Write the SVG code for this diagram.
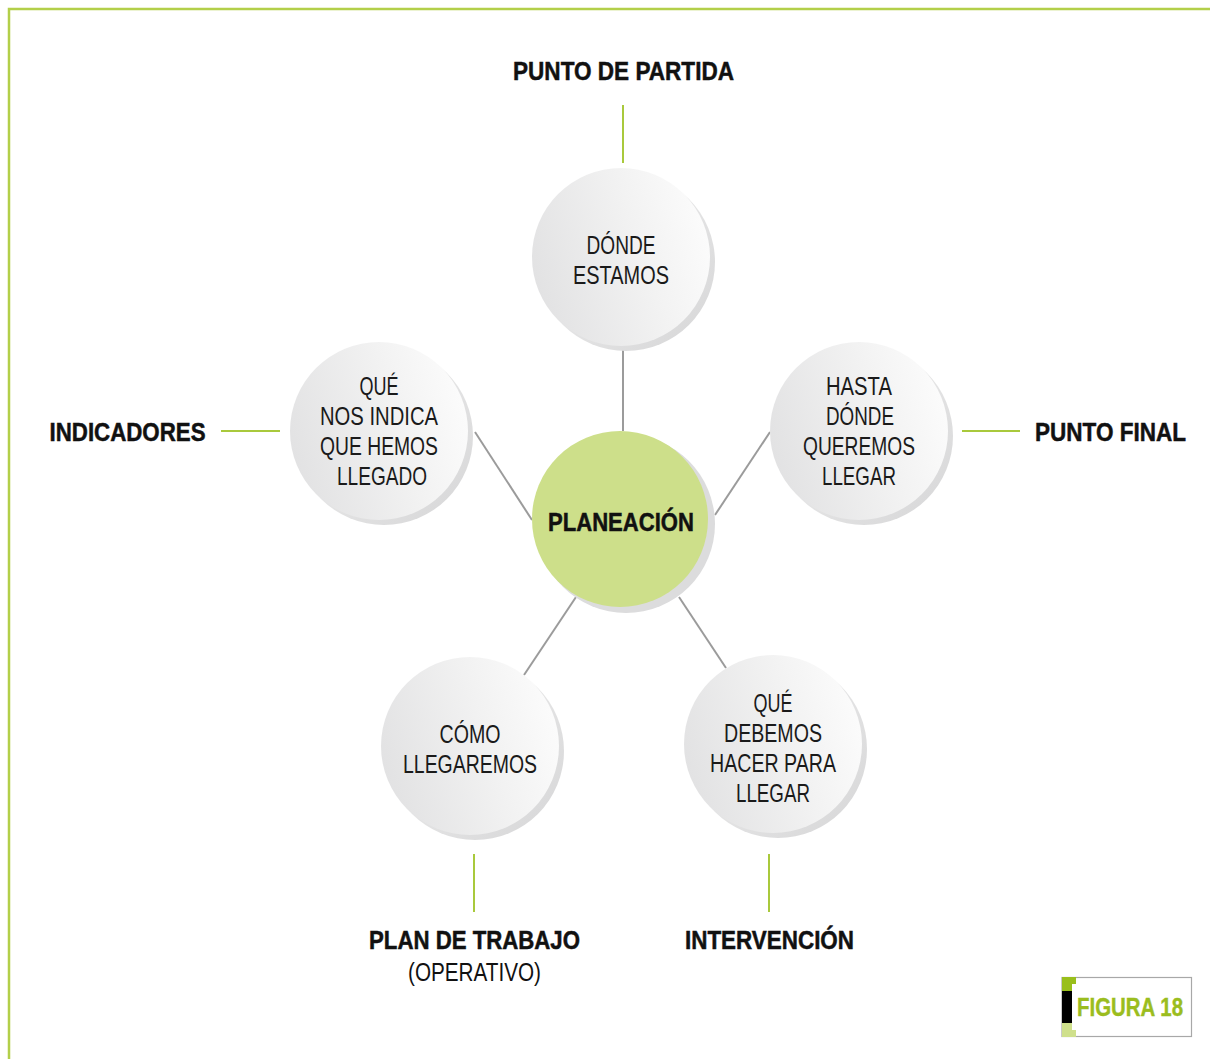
<svg xmlns="http://www.w3.org/2000/svg" width="1210" height="1059" viewBox="0 0 1210 1059">
<style>
.lbl{font-family:"Liberation Sans",Arial,sans-serif;font-weight:bold;font-size:26px;fill:#111;stroke:#111;stroke-width:0.5;text-anchor:middle}
.sub{font-family:"Liberation Sans",Arial,sans-serif;font-size:25px;fill:#111;text-anchor:middle}
.ct{font-family:"Liberation Sans",Arial,sans-serif;font-size:26px;fill:#1a1a1a;text-anchor:middle}
.gray{stroke:#9b9b9b;stroke-width:2;fill:none}
.green{stroke:#a9c93c;stroke-width:2;fill:none}
.bub{fill:url(#bg)}
.shd{fill:url(#sg)}
</style>
<defs>
<linearGradient id="bg" x1="0" y1="0.6" x2="1" y2="0.3">
<stop offset="0" stop-color="#e2e2e3"/>
<stop offset="0.6" stop-color="#f2f2f2"/>
<stop offset="1" stop-color="#fcfcfc"/>
</linearGradient>
<linearGradient id="sg" x1="0" y1="0" x2="1" y2="1">
<stop offset="0" stop-color="#f2f2f2"/>
<stop offset="1" stop-color="#d6d6d7"/>
</linearGradient>
</defs>
<rect width="1210" height="1059" fill="#fff"/>
<path d="M9,1059 V9 H1210" stroke="#b3cf4a" stroke-width="2.5" fill="none"/>

<g id="connectors">
<line class="gray" x1="623" y1="350" x2="623" y2="431"/>
<line class="gray" x1="475" y1="432" x2="532" y2="520"/>
<line class="gray" x1="770" y1="432" x2="715" y2="515"/>
<line class="gray" x1="576" y1="597" x2="524" y2="675"/>
<line class="gray" x1="679" y1="597" x2="726" y2="668"/>
<line class="green" x1="623" y1="105" x2="623" y2="163"/>
<line class="green" x1="221" y1="431" x2="280" y2="431"/>
<line class="green" x1="962" y1="431" x2="1020" y2="431"/>
<line class="green" x1="474" y1="854" x2="474" y2="912"/>
<line class="green" x1="769" y1="854" x2="769" y2="912"/>
</g>

<g id="center">
<circle cx="626" cy="524" r="89" fill="#dcdcdd"/>
<circle cx="620" cy="519" r="88" fill="#cddf8a"/>
<text class="lbl" x="621" y="531" textLength="146" lengthAdjust="spacingAndGlyphs">PLANEACIÓN</text>
</g>

<g id="n-donde">
<circle class="shd" cx="626" cy="262" r="89"/>
<circle class="bub" cx="621" cy="257" r="89"/>
<text class="ct" x="621" y="254" textLength="69" lengthAdjust="spacingAndGlyphs">DÓNDE</text>
<text class="ct" x="621" y="284" textLength="96" lengthAdjust="spacingAndGlyphs">ESTAMOS</text>
</g>

<g id="n-indica">
<circle class="shd" cx="384" cy="436" r="89"/>
<circle class="bub" cx="379" cy="431" r="89"/>
<text class="ct" x="379" y="395" textLength="39" lengthAdjust="spacingAndGlyphs">QUÉ</text>
<text class="ct" x="379" y="425" textLength="118" lengthAdjust="spacingAndGlyphs">NOS INDICA</text>
<text class="ct" x="379" y="455" textLength="118" lengthAdjust="spacingAndGlyphs">QUE HEMOS</text>
<text class="ct" x="382" y="485" textLength="90" lengthAdjust="spacingAndGlyphs">LLEGADO</text>
</g>

<g id="n-hasta">
<circle class="shd" cx="864" cy="436" r="89"/>
<circle class="bub" cx="859" cy="431" r="89"/>
<text class="ct" x="859" y="395" textLength="66" lengthAdjust="spacingAndGlyphs">HASTA</text>
<text class="ct" x="860" y="425" textLength="68" lengthAdjust="spacingAndGlyphs">DÓNDE</text>
<text class="ct" x="859" y="455" textLength="112" lengthAdjust="spacingAndGlyphs">QUEREMOS</text>
<text class="ct" x="859" y="485" textLength="74" lengthAdjust="spacingAndGlyphs">LLEGAR</text>
</g>

<g id="n-como">
<circle class="shd" cx="475" cy="751" r="89"/>
<circle class="bub" cx="470" cy="746" r="89"/>
<text class="ct" x="470" y="743" textLength="61" lengthAdjust="spacingAndGlyphs">CÓMO</text>
<text class="ct" x="470" y="773" textLength="134" lengthAdjust="spacingAndGlyphs">LLEGAREMOS</text>
</g>

<g id="n-debemos">
<circle class="shd" cx="778" cy="749" r="89"/>
<circle class="bub" cx="773" cy="744" r="89"/>
<text class="ct" x="773" y="712" textLength="39" lengthAdjust="spacingAndGlyphs">QUÉ</text>
<text class="ct" x="773" y="742" textLength="98" lengthAdjust="spacingAndGlyphs">DEBEMOS</text>
<text class="ct" x="773" y="772" textLength="126" lengthAdjust="spacingAndGlyphs">HACER PARA</text>
<text class="ct" x="773" y="802" textLength="74" lengthAdjust="spacingAndGlyphs">LLEGAR</text>
</g>

<g id="labels">
<text class="lbl" x="623.5" y="80" textLength="221" lengthAdjust="spacingAndGlyphs">PUNTO DE PARTIDA</text>
<text class="lbl" x="127.5" y="441" textLength="156" lengthAdjust="spacingAndGlyphs">INDICADORES</text>
<text class="lbl" x="1110.5" y="441" textLength="151" lengthAdjust="spacingAndGlyphs">PUNTO FINAL</text>
<text class="lbl" x="474.5" y="949" textLength="211" lengthAdjust="spacingAndGlyphs">PLAN DE TRABAJO</text>
<text class="sub" x="474.5" y="981" textLength="133" lengthAdjust="spacingAndGlyphs">(OPERATIVO)</text>
<text class="lbl" x="769.5" y="949" textLength="169" lengthAdjust="spacingAndGlyphs">INTERVENCIÓN</text>
</g>

<g id="figura">
<rect x="1062" y="977.5" width="129.5" height="59" fill="#fff" stroke="#a8a8a8" stroke-width="1.2"/>
<path d="M1062,977 H1076 V984 H1072 V991 H1062 Z" fill="#99bf1c"/>
<rect x="1062" y="991" width="10" height="32" fill="#000"/>
<path d="M1062,1023 H1072 V1030 H1076 V1037 H1062 Z" fill="#cfe08c"/>
<text x="1130" y="1016" font-family="Liberation Sans,Arial,sans-serif" font-weight="bold" font-size="25" fill="#9bbd1e" stroke="#9bbd1e" stroke-width="0.4" text-anchor="middle" textLength="106" lengthAdjust="spacingAndGlyphs">FIGURA 18</text>
</g>
</svg>
